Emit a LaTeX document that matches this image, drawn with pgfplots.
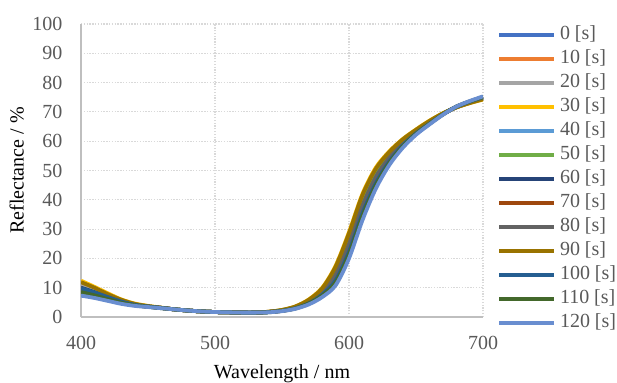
\documentclass[border=0pt]{standalone}
\usepackage{fontspec}
\setmainfont{Liberation Serif}
\usepackage{pgfplots}
\usepackage{pgfplotstable}
\pgfplotsset{compat=1.18}

\definecolor{c0}{HTML}{4472C4}
\definecolor{c10}{HTML}{ED7D31}
\definecolor{c20}{HTML}{A5A5A5}
\definecolor{c30}{HTML}{FFC000}
\definecolor{c40}{HTML}{5B9BD5}
\definecolor{c50}{HTML}{70AD47}
\definecolor{c60}{HTML}{264478}
\definecolor{c70}{HTML}{9E480E}
\definecolor{c80}{HTML}{636363}
\definecolor{c90}{HTML}{997300}
\definecolor{c100}{HTML}{255E91}
\definecolor{c110}{HTML}{43682B}
\definecolor{c120}{HTML}{698ED0}
\definecolor{txtgray}{HTML}{595959}
\definecolor{gridgray}{HTML}{D9D9D9}
\definecolor{axgray}{HTML}{BFBFBF}

% Reflectance spectra (%) versus wavelength (nm), one column per exposure time
\pgfplotstableread{
x   s0   s10  s20  s30  s40  s50  s60  s70  s80  s90  s100 s110 s120
400 10.2 10.8 11.4 12.4 9.0  9.4  10.0 9.2  9.6  11.9 9.8  8.5  7.3
410 8.7  9.1  9.6  10.3 7.8  8.1  8.5  7.9  8.2  10.0 8.4  7.4  6.5
420 7.0  7.3  7.6  8.1  6.4  6.6  6.9  6.5  6.7  7.8  6.8  6.1  5.5
430 5.4  5.6  5.7  6.0  5.0  5.1  5.3  5.1  5.2  5.9  5.3  4.9  4.5
440 4.2  4.3  4.4  4.6  4.1  4.1  4.2  4.1  4.2  4.5  4.2  4.0  3.8
450 3.6  3.6  3.7  3.8  3.5  3.5  3.6  3.5  3.6  3.7  3.6  3.5  3.4
460 3.1  3.1  3.1  3.2  3.1  3.1  3.1  3.1  3.1  3.1  3.1  3.0  3.0
470 2.6  2.6  2.6  2.6  2.6  2.6  2.6  2.6  2.6  2.6  2.6  2.6  2.6
480 2.2  2.2  2.2  2.2  2.2  2.2  2.2  2.2  2.2  2.2  2.2  2.2  2.2
490 1.9  1.9  1.9  1.9  1.9  1.9  1.9  1.9  1.9  1.9  1.9  1.9  1.9
500 1.7  1.7  1.7  1.7  1.7  1.7  1.7  1.7  1.7  1.7  1.7  1.7  1.7
510 1.6  1.6  1.6  1.6  1.6  1.6  1.6  1.6  1.6  1.6  1.6  1.6  1.6
520 1.5  1.5  1.5  1.5  1.5  1.5  1.5  1.5  1.5  1.5  1.5  1.5  1.5
530 1.5  1.5  1.5  1.5  1.5  1.5  1.5  1.5  1.5  1.5  1.5  1.5  1.5
540 1.7  1.75 1.8  1.8  1.7  1.7  1.7  1.7  1.7  1.8  1.7  1.6  1.6
550 2.2  2.3  2.3  2.4  2.2  2.3  2.2  2.1  2.2  2.4  2.1  2.1  2.0
560 3.3  3.4  3.5  3.6  3.1  3.4  3.2  3.0  3.2  3.6  3.0  2.9  2.8
570 5.3  5.6  5.7  6.0  5.0  5.5  5.1  4.8  5.2  5.9  4.7  4.6  4.3
580 8.7  9.2  9.5  10.0 8.1  9.0  8.2  7.8  8.6  9.8  7.6  7.3  6.8
590 14.8 15.8 16.5 17.5 13.5 15.5 13.8 12.8 14.5 17.2 12.5 11.8 10.8
600 25.4 26.8 27.7 29.0 23.6 26.3 24.1 22.7 25.0 28.6 22.3 21.4 20.0
610 38.4 39.8 40.7 42.0 36.6 39.3 37.1 35.7 38.0 41.6 35.3 34.4 33.0
620 48.1 49.2 49.9 51.0 46.7 48.8 47.0 46.0 47.8 50.6 45.6 44.9 43.8
630 54.6 55.3 55.8 56.5 53.7 55.1 53.9 53.2 54.4 56.3 53.0 52.5 51.8
640 59.5 60.0 60.3 60.7 58.9 59.8 59.1 58.6 59.4 60.6 58.5 58.2 57.7
650 63.3 63.6 63.7 64.0 62.9 63.5 63.0 62.7 63.2 63.9 62.7 62.5 62.2
660 66.5 66.7 66.8 67.0 66.2 66.6 66.3 66.1 66.4 66.9 66.0 65.9 65.7
670 69.3 69.4 69.4 69.5 69.2 69.4 69.2 69.2 69.3 69.5 69.1 69.1 69.0
680 71.6 71.6 71.5 71.5 71.7 71.6 71.7 71.7 71.6 71.5 71.7 71.8 71.8
690 73.3 73.2 73.1 73.0 73.4 73.2 73.4 73.5 73.3 73.0 73.5 73.6 73.7
700 74.6 74.5 74.4 74.2 74.9 74.5 74.8 75.0 74.7 74.3 75.0 75.1 75.3
}\spectra

\begin{document}
\begin{tikzpicture}[x=1bp,y=1bp]
\path[use as bounding box] (0,0) rectangle (617,382);
\begin{axis}[
  at={(81bp,65bp)}, anchor=south west,
  scale only axis, width=402bp, height=293bp,
  xmin=400, xmax=700, ymin=0, ymax=100,
  xtick={400,500,600,700},
  ytick={0,10,...,100},
  /pgf/number format/assume math mode=true,
  font=\fontsize{20bp}{24bp}\selectfont,
  tick label style={text=txtgray},
  xticklabel style={inner sep=0pt, yshift=-19bp},
  yticklabel style={inner sep=0pt, xshift=-18.5bp},
  tick style={draw=none},
  axis x line*=bottom, axis y line*=left,
  axis line style={-, draw=axgray, line width=1.6bp},
  grid=major,
  grid style={draw=gridgray, line width=1.1bp, dash pattern=on 1.3bp off 1.5bp},
  xlabel={Wavelength / nm},
  ylabel={Reflectance / \%},
  every axis x label/.style={at={(axis description cs:0.5,-0.1620)}, anchor=north, inner sep=0pt},
  every axis y label/.style={at={(axis description cs:-0.1418,0.5)}, rotate=90, anchor=south, inner sep=0pt},
  legend style={at={(axis description cs:1.0348,0.9942)}, anchor=north west,
    draw=none, fill=none, inner sep=0pt, row sep=6bp,
    font=\fontsize{20bp}{24bp}\selectfont, text=txtgray,
    nodes={inner sep=0pt, text height=14bp, text depth=4bp}},
  legend cell align=left,
  legend image code/.code={\draw[#1] (0bp,0bp) -- (55bp,0bp);},
  /tikz/every even column/.append style={column sep=0bp},
  /tikz/every odd column/.append style={column sep=4bp},
  every axis plot/.append style={line width=3.8bp, smooth, tension=0.5},
]
\addplot[c0]   table[x=x,y=s0]   {\spectra}; \addlegendentry{0 [s]}
\addplot[c10]  table[x=x,y=s10]  {\spectra}; \addlegendentry{10 [s]}
\addplot[c20]  table[x=x,y=s20]  {\spectra}; \addlegendentry{20 [s]}
\addplot[c30]  table[x=x,y=s30]  {\spectra}; \addlegendentry{30 [s]}
\addplot[c40]  table[x=x,y=s40]  {\spectra}; \addlegendentry{40 [s]}
\addplot[c50]  table[x=x,y=s50]  {\spectra}; \addlegendentry{50 [s]}
\addplot[c60]  table[x=x,y=s60]  {\spectra}; \addlegendentry{60 [s]}
\addplot[c70]  table[x=x,y=s70]  {\spectra}; \addlegendentry{70 [s]}
\addplot[c80]  table[x=x,y=s80]  {\spectra}; \addlegendentry{80 [s]}
\addplot[c90]  table[x=x,y=s90]  {\spectra}; \addlegendentry{90 [s]}
\addplot[c100] table[x=x,y=s100] {\spectra}; \addlegendentry{100 [s]}
\addplot[c110] table[x=x,y=s110] {\spectra}; \addlegendentry{110 [s]}
\addplot[c120] table[x=x,y=s120] {\spectra}; \addlegendentry{120 [s]}
\end{axis}
\end{tikzpicture}
\end{document}
